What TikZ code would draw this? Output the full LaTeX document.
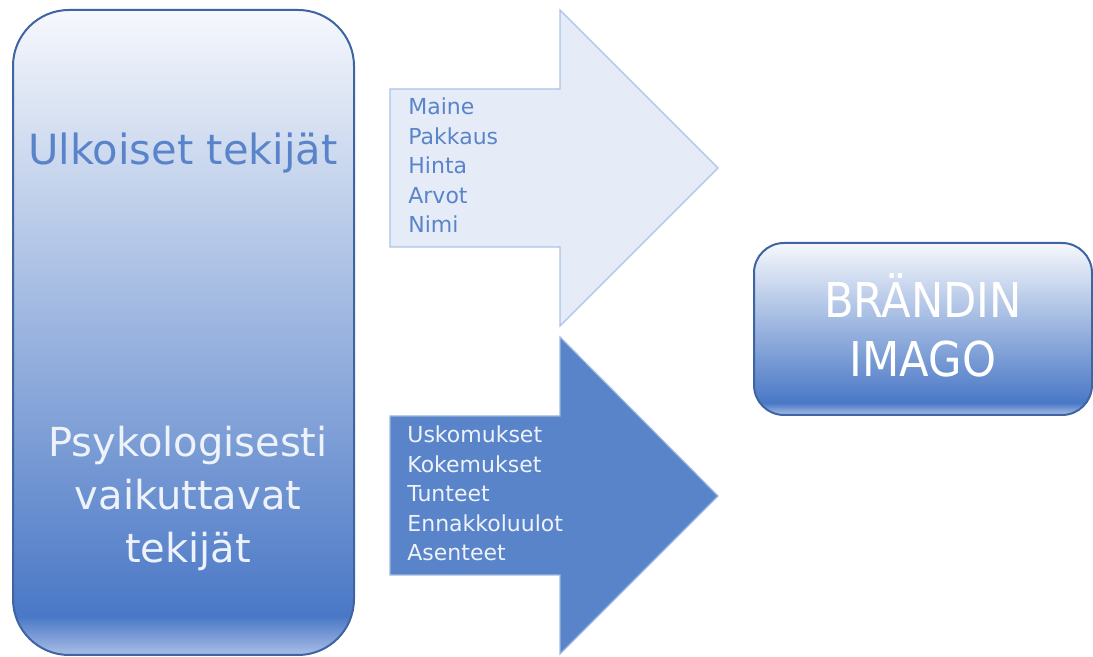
\documentclass[tikz,border=0pt]{standalone}
\usepackage{fontspec}
\setmainfont{DejaVu Sans}
\newfontfamily\condfont{DejaVu Sans Condensed}
\definecolor{edgeblue}{HTML}{3F64A2}
\definecolor{topcol}{HTML}{F6F8FC}
\definecolor{deepcol}{HTML}{4A78C6}
\definecolor{bandcol}{HTML}{A9BEE6}
\definecolor{paleblue}{HTML}{E6ECF7}
\definecolor{palerim}{HTML}{A9C4E6}
\definecolor{midblue}{HTML}{5A84C9}
\definecolor{rimblue}{HTML}{9DB8E0}
\definecolor{textblue}{HTML}{5A84C9}
\definecolor{textwhite}{HTML}{EEF2FA}
\pgfdeclareverticalshading{tallshade}{100bp}{color(0bp)=(bandcol); color(25bp)=(bandcol); color(28bp)=(deepcol); color(75bp)=(topcol); color(100bp)=(topcol)}
\pgfdeclareverticalshading{wideshade}{100bp}{color(0bp)=(bandcol); color(25bp)=(bandcol); color(28.5bp)=(deepcol); color(75bp)=(topcol); color(100bp)=(topcol)}
\tikzset{
  bigtext/.style={font=\fontsize{20}{26.5}\selectfont, align=center, inner sep=0pt},
  listtext/.style={font=\fontsize{11}{14.75}\selectfont, align=left, inner sep=0pt, anchor=base west},
}
\begin{document}
\begin{tikzpicture}[x=0.5pt,y=0.5pt]
        \useasboundingbox (0,0) rectangle (1093,657);
        % left box
        \draw[edgeblue, line width=1pt, rounded corners=28pt, shading=tallshade] (13,2) rectangle (354,647);
        \node[bigtext, font=\fontsize{20.8}{26.5}\selectfont, text=textblue, anchor=base] (ulko) at (183,492) {Ulkoiset tekijät};
        \node[bigtext, text=textwhite, anchor=base] (psyk) at (188,94) {Psykologisesti\\vaikuttavat\\tekijät};
        % arrows
        \draw[palerim, line width=0.6pt, fill=paleblue] (390,568) -- (560,568) -- (560,647) -- (718,489)
            -- (560,331) -- (560,410) -- (390,410) -- cycle;
        \draw[rimblue, line width=0.6pt, fill=midblue] (390,241) -- (560,241) -- (560,320) -- (718,161)
            -- (560,3) -- (560,82) -- (390,82) -- cycle;
        \node[listtext, text=textblue] (ext) at (408,424) {Maine\\Pakkaus\\Hinta\\Arvot\\Nimi};
        \node[listtext, text=textwhite] (psy) at (407,96) {Uskomukset\\Kokemukset\\Tunteet\\Ennakkoluulot\\Asenteet};
        % right box
        \draw[edgeblue, line width=1pt, rounded corners=15pt, shading=wideshade] (754,242) rectangle (1092,414);
        \node[font=\condfont\fontsize{24}{29.5}\selectfont, align=center, inner sep=0pt, text=white, anchor=base] (imago) at (923,280) {BRÄNDIN\\IMAGO};
\end{tikzpicture}
\end{document}
